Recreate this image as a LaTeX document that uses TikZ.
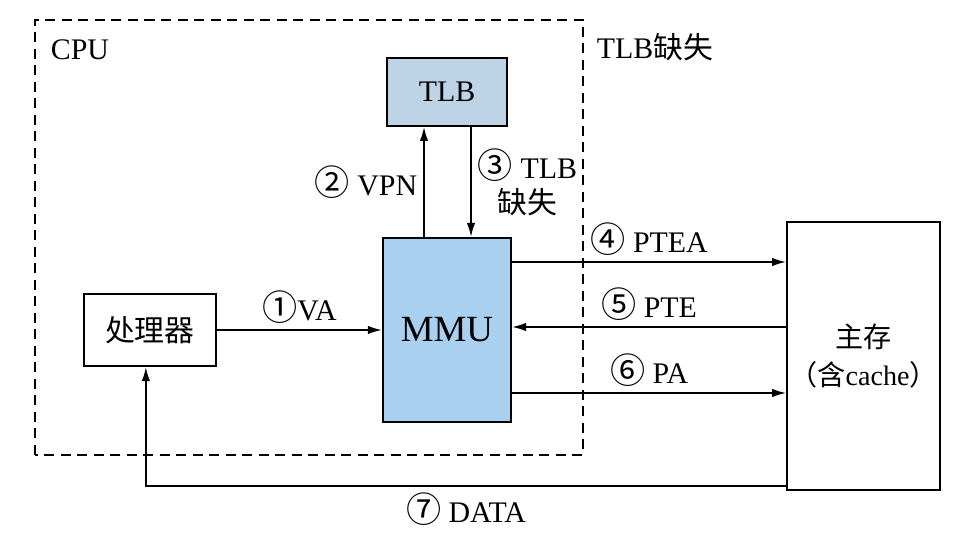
\documentclass[tikz,border=0pt]{standalone}
\usepackage{fontspec}
\setmainfont{Liberation Serif}
\newfontfamily\cjk{Noto Sans CJK SC}
\usepackage{tikz}
\usetikzlibrary{arrows.meta,positioning}

\definecolor{tlbfill}{HTML}{BDD3E6}
\definecolor{mmufill}{HTML}{A9D1EF}
\newcommand{\cnum}[1]{{\cjk\fontsize{20}{20}\selectfont #1}}

\begin{document}
\begin{tikzpicture}[node distance=2.2cm and 3.3cm,>={Latex[length=2.8mm,width=1.7mm]},
  line width=1pt,font=\fontsize{17}{20}\selectfont,
  unit/.style={draw,line width=1.2pt,align=center,inner sep=0pt},
  lbl/.style={inner sep=2pt,align=center}]
\useasboundingbox (0,0) rectangle (19.14,10.68);
\node[unit,fill=mmufill,minimum width=2.56cm,minimum height=3.68cm,
  font=\fontsize{21}{24}\selectfont] (mmu) at (8.94,4.08) {MMU};
\node[unit,fill=tlbfill,minimum width=2.4cm,minimum height=1.36cm,above=of mmu] (tlb) {TLB};
\node[unit,minimum width=2.64cm,minimum height=1.44cm,left=of mmu] (proc) {\cjk 处理器};
\node[unit,minimum width=3.06cm,minimum height=5.36cm,right=5.48cm of mmu,yshift=-0.52cm,
  font=\fontsize{16}{20}\selectfont] (mem)
  {{\cjk 主存}\\[2pt]{\cjk （含}cache{\cjk ）}};
\draw[dashed,dash pattern=on 2mm off 1.3mm] (0.70,1.58) rectangle (11.66,10.28);
\node[lbl] (cpu) at (1.6,9.68) {CPU};
\node[lbl] (miss) at (13.1,9.74) {TLB{\cjk 缺失}};
\draw[->] (proc) -- node[lbl,above=0.5mm] {\cnum{①}VA} (mmu);
\draw[->] ([xshift=-0.46cm]mmu.north) -- ([xshift=-0.46cm]tlb.south)
  node[lbl,midway,left=0.5mm] {\cnum{②} VPN};
\draw[->] ([xshift=0.48cm]tlb.south) -- ([xshift=0.48cm]mmu.north)
  node[lbl,midway,right=0.5mm] {\cnum{③} TLB\\{\cjk 缺失}};
\draw[->] ([yshift=1.36cm]mmu.east) -- ([yshift=1.36cm]mmu.east -| mem.west)
  node[lbl,midway,above=0.5mm] {\cnum{④} PTEA};
\draw[->] ([yshift=0.06cm]mmu.east -| mem.west) -- ([yshift=0.06cm]mmu.east)
  node[lbl,midway,above=0.5mm] {\cnum{⑤} PTE};
\draw[->] ([yshift=-1.26cm]mmu.east) -- ([yshift=-1.26cm]mmu.east -| mem.west)
  node[lbl,midway,above=0.5mm] {\cnum{⑥} PA};
\coordinate (back) at ([yshift=0.1cm]mem.south west);
\coordinate (procin) at ([xshift=-0.08cm]proc.south);
\draw[->] (back) -- (back -| procin)
  node[lbl,midway,below=0.5mm] {\cnum{⑦} DATA} -- (procin);
\end{tikzpicture}
\end{document}
